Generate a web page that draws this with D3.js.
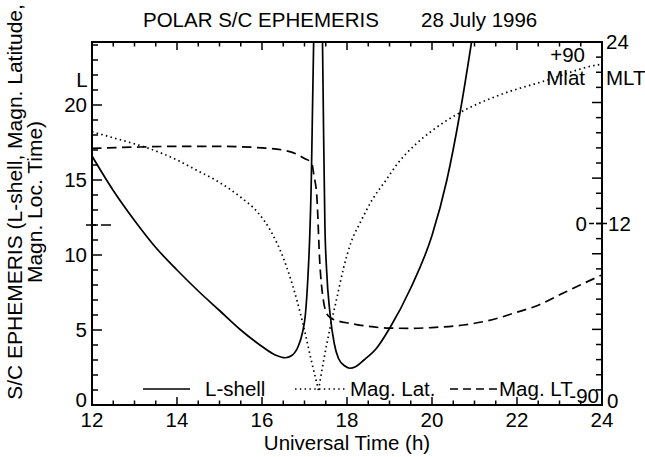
<!DOCTYPE html>
<html><head><meta charset="utf-8">
<script src="https://cdn.jsdelivr.net/npm/d3@7"></script>
<style>
body{margin:0;background:#fff;}
text{font-family:"Liberation Sans",Arial,Helvetica,sans-serif;fill:#000;}
</style></head>
<body><svg id="c" width="645" height="457"></svg>
<script>
// ---- data ----
const lshellUT1 = [12.0,12.5,13.0,13.5,14.0,14.5,15.0,15.5,16.0,16.3,16.55,16.7,16.85,16.95,17.02,17.08,17.12,17.16,17.19,17.22];
const lshellL1  = [16.6,14.3,12.3,10.5,9.0,7.6,6.3,5.0,3.9,3.35,3.15,3.3,3.9,4.8,6.0,8.5,11.0,15.0,20.0,25.0];
const lshellUT2 = [17.42,17.45,17.48,17.52,17.6,17.7,17.8,17.95,18.07,18.2,18.4,18.7,19.0,19.5,20.0,20.35,20.66,20.93,21.0];
const lshellL2  = [25.0,18.0,12.0,9.0,6.1,4.1,3.1,2.6,2.45,2.55,3.0,3.8,5.1,7.8,11.3,15.0,19.5,24.2,25.5];
const mlatUT1 = [12.0,12.5,13.0,13.3,14.0,14.5,14.9,15.5,15.9,16.2,16.5,16.82,17.0,17.15,17.33];
const mlat1   = [45.5,42.5,39.5,37.5,31.5,26.0,21.6,13.0,5.5,-3.5,-17.0,-38.0,-53.0,-67.0,-82.6];
const mlatUT2 = [17.33,17.45,17.6,17.75,17.92,18.1,18.3,18.6,18.9,19.2,19.6,20.0,20.66,21.5,22.7,23.88,24.0];
const mlat2   = [-82.6,-68.0,-52.0,-38.0,-22.0,-9.0,0.0,12.0,21.0,30.0,39.0,46.0,55.0,63.0,71.0,78.6,79.0];
const mltUT = [12.0,13.0,14.0,15.0,16.0,16.5,16.8,17.0,17.17,17.22,17.29,17.36,17.44,17.5,17.6,17.8,18.07,18.5,19.0,19.5,20.0,20.74,21.5,21.91,22.5,23.09,23.5,24.0];
const mlt   = [16.97,17.05,17.1,17.1,17.0,16.85,16.6,16.3,16.0,15.2,13.8,9.4,7.0,6.2,5.8,5.55,5.4,5.2,5.08,5.07,5.12,5.29,5.7,6.06,6.6,7.4,7.95,8.6];
const xTickLabels = [12,14,16,18,20,22,24];
const yTickLabels = [0,5,10,15,20];
const legendNames = ["L-shell","Mag. Lat.","Mag. LT"];

// ---- setup ----
const svg = d3.select("#c");
const L=92,R=602,T=42,B=405;
const x = d3.scaleLinear([12,24],[L,R]);
const yL = d3.scaleLinear([0,24.2],[B,T]);
const yMLT = d3.scaleLinear([0,24],[B,T]);
const yLat = d3.scaleLinear([-90,90],[B,T]);

svg.append("clipPath").attr("id","clip").append("rect")
  .attr("x",L).attr("y",T).attr("width",R-L).attr("height",B-T);

const g = svg.append("g").attr("clip-path","url(#clip)");
function drawLine(ut, vals, yS, dash){
  const pts = ut.map((u,i)=>[u,vals[i]]);
  g.append("path").datum(pts)
    .attr("d", d3.line().x(d=>x(d[0])).y(d=>yS(d[1])).curve(d3.curveMonotoneX))
    .attr("fill","none").attr("stroke","#000").attr("stroke-width",1.7)
    .attr("stroke-dasharray",dash);
}
drawLine(lshellUT1,lshellL1,yL,null);
drawLine(lshellUT2,lshellL2,yL,null);
drawLine(mlatUT1,mlat1,yLat,"1.5,3.3");
drawLine(mlatUT2,mlat2,yLat,"1.5,3.3");
drawLine(mltUT,mlt,yMLT,"9.5,5.5");

// ---- axes (ticks inward) ----
const fs = 20.5;
function xTicks(yPos, dir){
  const minor = d3.range(12,24.01,0.5);
  svg.append("g").selectAll("line").data(minor).join("line")
    .attr("x1",d=>x(d)).attr("x2",d=>x(d))
    .attr("y1",yPos).attr("y2",d=> yPos + dir*((Math.abs(d%2)<1e-6)?8:4.5))
    .attr("stroke","#000").attr("stroke-width",1.5);
}
xTicks(B,-1); xTicks(T,1);
svg.append("g").selectAll("line").data(d3.range(0,24.1,1)).join("line")
  .attr("y1",d=>yL(d)).attr("y2",d=>yL(d))
  .attr("x1",L).attr("x2",d=> L + (d%5===0?10:6))
  .attr("stroke","#000").attr("stroke-width",1.5);
svg.append("g").selectAll("line").data(d3.range(0,24.1,1)).join("line")
  .attr("y1",d=>yMLT(d)).attr("y2",d=>yMLT(d))
  .attr("x1",R).attr("x2",d=> R - (d%5===0?10:6))
  .attr("stroke","#000").attr("stroke-width",1.5);
svg.append("rect").attr("x",L).attr("y",T).attr("width",R-L).attr("height",B-T)
  .attr("fill","none").attr("stroke","#000").attr("stroke-width",2);

// tick labels
svg.append("g").selectAll("text").data(xTickLabels).join("text")
  .attr("x",d=>x(d)).attr("y",427).attr("text-anchor","middle")
  .attr("font-size",fs).text(d=>d);
svg.append("g").selectAll("text").data(yTickLabels).join("text")
  .attr("x",87).attr("y",d=>yL(d)+7-(d===0?5:0)).attr("text-anchor","end")
  .attr("font-size",fs).text(d=>d);
svg.append("text").attr("x",82).attr("y",87).attr("text-anchor","middle").attr("font-size",fs).text("L");

// right labels
const rt = (t,xx,yy,anchor)=>svg.append("text").attr("x",xx).attr("y",yy).attr("text-anchor",anchor||"start").attr("font-size",fs).text(t);
rt("24",606,yMLT(24)+7);
rt("MLT",606,85);
rt("12",608,yMLT(12)+7);
rt("0",607,yMLT(0)+3);
rt("+90",585,62,"end");
rt("Mlat",585,85,"end");
rt("0",587,yLat(0)+7,"end");
rt("-90",599,403,"end");
svg.append("line").attr("x1",589).attr("x2",607).attr("y1",yMLT(12)).attr("y2",yMLT(12))
  .attr("stroke","#000").attr("stroke-width",1.5).attr("stroke-dasharray","5,2");
svg.append("line").attr("x1",86).attr("x2",111).attr("y1",yL(12)).attr("y2",yL(12))
  .attr("stroke","#000").attr("stroke-width",1.5).attr("stroke-dasharray","10,5");

// titles
svg.append("text").attr("x",143).attr("y",27).attr("font-size",fs).text("POLAR S/C EPHEMERIS");
svg.append("text").attr("x",421).attr("y",27).attr("font-size",fs).text("28 July 1996");
svg.append("text").attr("x",347).attr("y",450).attr("text-anchor","middle").attr("font-size",fs).text("Universal Time (h)");
svg.append("text").attr("transform","translate(22,202) rotate(-90)").attr("text-anchor","middle").attr("font-size",21)
  .text("S/C EPHEMERIS (L-shell, Magn. Latitude,");
svg.append("text").attr("transform","translate(42,202) rotate(-90)").attr("text-anchor","middle").attr("font-size",21)
  .text("Magn. Loc. Time)");

// legend
const legY = 389;
const leg = [
  {x1:143,x2:190,tx:205,dash:null},
  {x1:295,x2:347,tx:350,dash:"1.5,3.3"},
  {x1:450,x2:497,tx:499,dash:"8,5"}
];
leg.forEach((d,i)=>{
  svg.append("line").attr("x1",d.x1).attr("x2",d.x2).attr("y1",legY).attr("y2",legY)
    .attr("stroke","#000").attr("stroke-width",1.5).attr("stroke-dasharray",d.dash);
  svg.append("text").attr("x",d.tx).attr("y",legY+7).attr("font-size",fs).text(legendNames[i]);
});
</script></body></html>
